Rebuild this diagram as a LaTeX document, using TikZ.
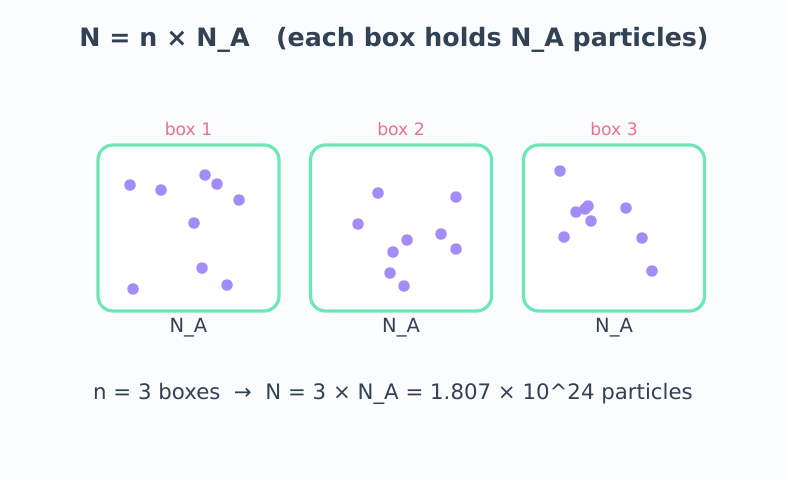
\documentclass[tikz,border=0pt]{standalone}
\usepackage{fontspec}
\setmainfont{DejaVu Sans}
\usetikzlibrary{positioning}
\definecolor{bgpage}{HTML}{FBFCFE}
\definecolor{ink}{HTML}{334155}
\definecolor{frame}{HTML}{6EE7B7}
\definecolor{particle}{HTML}{A28CF8}
\definecolor{tag}{HTML}{EE7090}

\begin{document}
\begin{tikzpicture}[x=1pt,y=-1pt,
    boxframe/.style={draw=frame,line width=3.2pt,rounded corners=15pt,fill=white,
                     minimum width=181pt,minimum height=166pt},
    boxtag/.style={text=tag,font=\fontsize{17.2}{19}\selectfont,inner sep=0pt},
    boxcount/.style={text=ink,font=\fontsize{19.5}{21}\selectfont,inner sep=0pt},
    dot/.style={circle,fill=particle,inner sep=0pt,minimum size=11.5pt}]
    \fill[bgpage] (0,0) rectangle (787,480);
    \useasboundingbox (0,0) rectangle (787,480);

    \node[text=ink,font=\bfseries\fontsize{25.3}{28}\selectfont] (title) at (394,40)
        {N = n × N\_A \ \ (each box holds N\_A particles)};

    \foreach \i/\x in {1/188.5,2/401,3/614}{
        \node[boxframe] (box\i) at (\x,228) {};
        \node[boxtag,above=7pt of box\i] (tag\i) {box \i};
        \node[boxcount,below=5.5pt of box\i] (count\i) {N\_A};
    }

    % particles in box 1
    \foreach \p in {(130,185),(161,190),(205,175),(217,184),(239,200),
                    (194,223),(202,268),(227,285),(133,289)}
        \node[dot] at \p {};
    % particles in box 2
    \foreach \p in {(378,193),(456,197),(358,224),(441,234),(407,240),
                    (456,249),(393,252),(390,273),(404,286)}
        \node[dot] at \p {};
    % particles in box 3
    \foreach \p in {(560,171),(588,206),(585,209),(576,212),(591,221),
                    (626,208),(564,237),(642,238),(652,271)}
        \node[dot] at \p {};

    \node[text=ink,font=\fontsize{21.3}{24}\selectfont] (total) at (393,394)
        {n = 3 boxes \ → \ N = 3 × N\_A = 1.807 × 10\textasciicircum 24 particles};
\end{tikzpicture}
\end{document}
